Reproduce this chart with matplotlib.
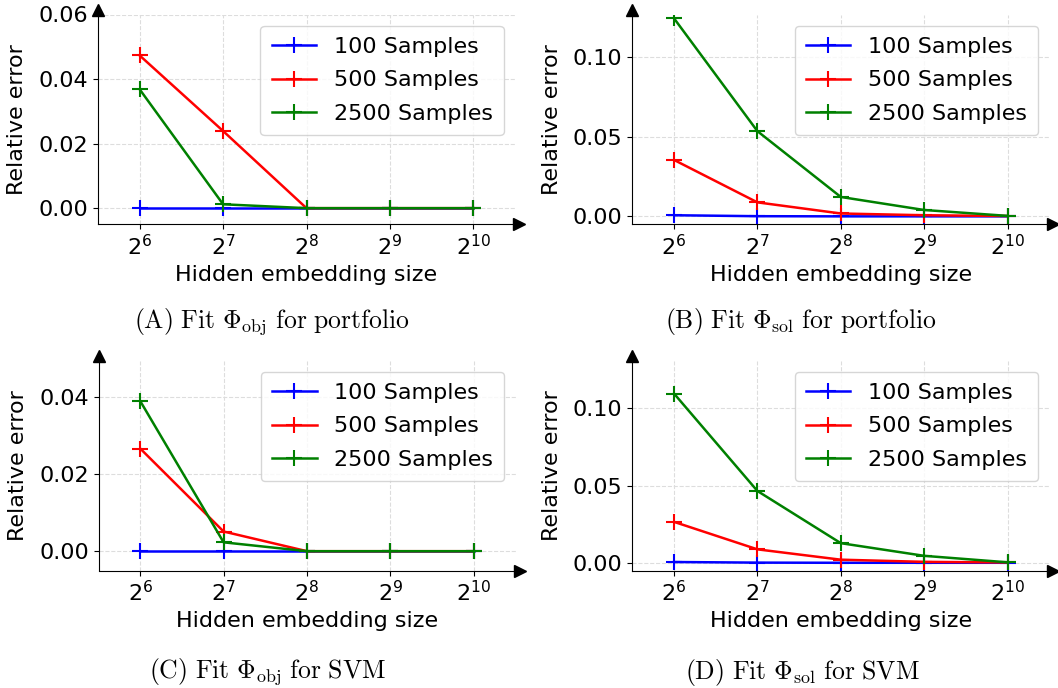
import numpy as np
import matplotlib.pyplot as plt

# hidden embedding sizes
sizes = [64, 128, 256, 512, 1024]
labels = ["100 Samples", "500 Samples", "2500 Samples"]
colors = ["b", "r", "g"]

# (A) Phi_obj, portfolio
obj_port_100 = [0.0, 0.0, 0.0, 0.0, 0.0]
obj_port_500 = [0.0473, 0.0239, 0.0, 0.0, 0.0]
obj_port_2500 = [0.0368, 0.0012, 0.0, 0.0, 0.0]

# (B) Phi_sol, portfolio
sol_port_100 = [0.0007, 0.0001, 0.0, 0.0, 0.0]
sol_port_500 = [0.0355, 0.0088, 0.0018, 0.0007, 0.0002]
sol_port_2500 = [0.1246, 0.0536, 0.0122, 0.0040, 0.0003]

# (C) Phi_obj, SVM
obj_svm_100 = [0.0, 0.0, 0.0, 0.0, 0.0]
obj_svm_500 = [0.0266, 0.0051, 0.0, 0.0, 0.0]
obj_svm_2500 = [0.0389, 0.0023, 0.0, 0.0, 0.0]

# (D) Phi_sol, SVM
sol_svm_100 = [0.0005, 0.0001, 0.0, 0.0, 0.0]
sol_svm_500 = [0.0265, 0.0087, 0.0020, 0.0006, 0.0002]
sol_svm_2500 = [0.1096, 0.0465, 0.0127, 0.0045, 0.0003]

captions = [r"$\mathrm{(A)\ Fit\ }\Phi_{\mathrm{obj}}\mathrm{\ for\ portfolio}$",
            r"$\mathrm{(B)\ Fit\ }\Phi_{\mathrm{sol}}\mathrm{\ for\ portfolio}$",
            r"$\mathrm{(C)\ Fit\ }\Phi_{\mathrm{obj}}\mathrm{\ for\ SVM}$",
            r"$\mathrm{(D)\ Fit\ }\Phi_{\mathrm{sol}}\mathrm{\ for\ SVM}$"]

series = [[obj_port_100, obj_port_500, obj_port_2500],
          [sol_port_100, sol_port_500, sol_port_2500],
          [obj_svm_100, obj_svm_500, obj_svm_2500],
          [sol_svm_100, sol_svm_500, sol_svm_2500]]

yticks = [[0.0, 0.02, 0.04, 0.06], [0.0, 0.05, 0.10],
          [0.0, 0.02, 0.04], [0.0, 0.05, 0.10]]
ytops = [0.06, 0.127, 0.0494, 0.131]

fig = plt.figure(figsize=(10.58, 6.88), dpi=100)
W, H = 1058.0, 688.0
# axes boxes in pixels: left, top, bottom
boxes = [(98, 14.5, 224.3), (632.3, 14.5, 224.3),
         (98.5, 360.5, 570.5), (632.3, 360.5, 570.5)]
cap_pos = [(272, 322), (801, 322), (268, 672), (802, 672)]

for i in range(4):
    l, t, b = boxes[i]
    ax = fig.add_axes([l / W, 1 - b / H, 417 / W, (b - t) / H])
    for data, lab, c in zip(series[i], labels, colors):
        ax.plot(sizes, data, color=c, marker="+", markersize=11,
                markeredgewidth=1.5, linewidth=1.8, label=lab)
    ax.set_xscale("log", base=2)
    ax.set_xlim(2 ** 5.5, 2 ** 10.5)
    ax.set_xticks(sizes)
    ax.set_ylim(-0.005, ytops[i])
    ax.set_yticks(yticks[i])
    ax.set_yticklabels(["%.2f" % v for v in yticks[i]])
    ax.tick_params(labelsize=16)
    ax.grid(True, linestyle="--", color="#dddddd", linewidth=0.8)
    ax.set_axisbelow(True)
    ax.spines["top"].set_visible(False)
    ax.spines["right"].set_visible(False)
    ax.plot(1.01, 0, ">k", transform=ax.transAxes, clip_on=False, markersize=9)
    ax.plot(0, 1.02, "^k", transform=ax.transAxes, clip_on=False, markersize=9)
    ax.set_xlabel("Hidden embedding size", fontsize=16)
    ax.set_ylabel("Relative error", fontsize=16, labelpad=8)
    ax.legend(loc="upper right", fontsize=16, labelspacing=0.62, borderpad=0.5)
    fig.text(cap_pos[i][0] / W, 1 - cap_pos[i][1] / H, captions[i],
             math_fontfamily="cm", fontsize=18.5, ha="center", va="center")

plt.savefig("out.png", dpi=100)
